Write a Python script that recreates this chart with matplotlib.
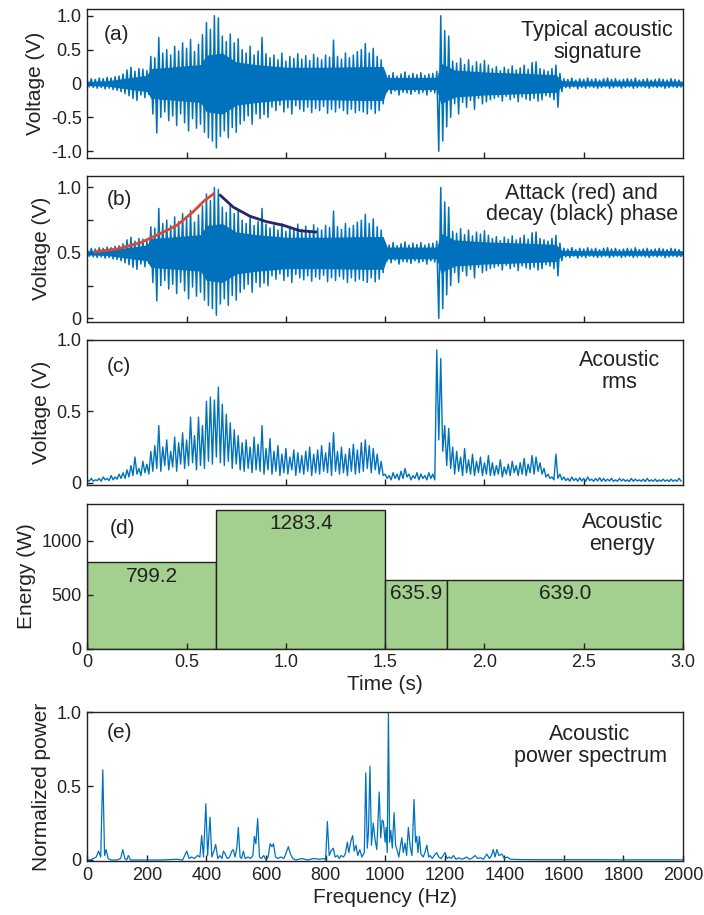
import numpy as np
import matplotlib.pyplot as plt

plt.rcParams['font.family'] = ['Liberation Sans', 'DejaVu Sans']

# --- (a) acoustic signature: upper peaks (t = 0, 0.02, ...) and lower peaks (t = 0.01, 0.03, ...) ---
sig_upper = [
    0.05, 0.07, 0.06, 0.08, 0.07, 0.09, 0.08, 0.10, 0.11, 0.14,
    0.20, 0.24, 0.18, 0.22, 0.21, 0.19,
    0.40, 0.38, 0.68, 0.45, 0.50, 0.42, 0.55, 0.48, 0.60, 0.52, 0.65, 0.47, 0.58,
    0.72, 0.90, 0.80, 1.00, 0.97,
    0.70, 0.62, 0.73, 0.60, 0.66,
    0.50, 0.45, 0.55, 0.42, 0.48, 0.68, 0.44,
    0.38, 0.42, 0.35, 0.45, 0.33, 0.40, 0.37, 0.44, 0.36, 0.41, 0.34, 0.43,
    0.38, 0.35, 0.42, 0.39, 0.64, 0.40, 0.36, 0.45, 0.38, 0.42, 0.47,
    0.50, 0.59, 0.45, 0.52, 0.40, 0.35,
    0.15, 0.12, 0.16, 0.11, 0.14, 0.17, 0.12, 0.15, 0.13, 0.16, 0.12, 0.14, 0.15, 0.18,
    1.00, 0.78, 0.70,
    0.33, 0.30, 0.37, 0.28, 0.35, 0.26, 0.32, 0.29, 0.34, 0.27,
    0.22, 0.25, 0.19, 0.24, 0.21, 0.26, 0.20, 0.23, 0.27, 0.21, 0.31, 0.32, 0.22,
    0.20, 0.18, 0.22, 0.27, 0.15,
    0.07, 0.06, 0.08, 0.05, 0.07, 0.06, 0.08, 0.06, 0.07, 0.05, 0.07, 0.08, 0.06, 0.07, 0.05,
    0.06, 0.07, 0.06, 0.08, 0.05, 0.06, 0.07, 0.05, 0.06, 0.07, 0.06, 0.05, 0.07, 0.06, 0.05,
]
sig_lower = [
    -0.05, -0.06, -0.07, -0.06, -0.08, -0.07, -0.09, -0.10, -0.12, -0.15,
    -0.18, -0.22, -0.25, -0.17, -0.21, -0.16,
    -0.45, -0.73, -0.50, -0.42, -0.55, -0.48, -0.62, -0.45, -0.58, -0.70, -0.52, -0.66, -0.60,
    -0.72, -0.80, -0.85, -0.95, -0.78,
    -0.70, -0.80, -0.65, -0.72, -0.60,
    -0.55, -0.48, -0.60, -0.45, -0.52, -0.46, -0.50,
    -0.35, -0.40, -0.32, -0.42, -0.36, -0.45, -0.33, -0.38, -0.41, -0.35, -0.43, -0.37,
    -0.40, -0.34, -0.44, -0.38, -0.42, -0.36, -0.40, -0.45, -0.38, -0.43, -0.40,
    -0.42, -0.45, -0.38, -0.44, -0.40, -0.30,
    -0.12, -0.15, -0.11, -0.17, -0.13, -0.14, -0.16, -0.12, -0.15, -0.13, -0.17, -0.12, -0.14, -1.00,
    -0.85, -0.64, -0.50,
    -0.30, -0.45, -0.28, -0.35, -0.25, -0.38, -0.22, -0.30, -0.27, -0.24,
    -0.22, -0.20, -0.26, -0.19, -0.24, -0.21, -0.27, -0.20, -0.23, -0.25, -0.22, -0.26, -0.24,
    -0.18, -0.20, -0.24, -0.35, -0.12,
    -0.06, -0.07, -0.05, -0.08, -0.06, -0.07, -0.05, -0.06, -0.07, -0.06, -0.05, -0.07, -0.06, -0.05, -0.07,
    -0.06, -0.05, -0.07, -0.06, -0.05, -0.06, -0.07, -0.05, -0.06, -0.05, -0.07, -0.06, -0.05, -0.06, -0.05,
]
# dense (solid) band of the signature, +/- amplitude
core_t = [0.0, 0.1, 0.2, 0.3, 0.32, 0.45, 0.57, 0.6, 0.68, 0.75, 0.85, 1.0, 1.2, 1.4, 1.49,
          1.51, 1.76, 1.78, 1.85, 2.0, 2.2, 2.36, 2.39, 2.5, 3.0]
core_amp = [0.03, 0.04, 0.08, 0.12, 0.22, 0.25, 0.28, 0.42, 0.45, 0.32, 0.28, 0.24, 0.24, 0.25, 0.25,
            0.09, 0.09, 0.30, 0.20, 0.17, 0.15, 0.13, 0.04, 0.035, 0.035]

# --- (b) attack / decay envelope ---
attack_t = [0.04, 0.15, 0.27, 0.37, 0.45, 0.53, 0.59, 0.635]
attack_v = [0.51, 0.53, 0.58, 0.65, 0.71, 0.81, 0.90, 0.95]
decay_t = [0.67, 0.735, 0.82, 0.90, 0.99, 1.07, 1.15]
decay_v = [0.94, 0.85, 0.78, 0.74, 0.71, 0.67, 0.66]

# --- (c) acoustic rms: peaks and troughs ---
rms_hi = [
    0.02, 0.03, 0.02, 0.03, 0.04, 0.03, 0.05, 0.04, 0.06, 0.07,
    0.09, 0.12, 0.18, 0.10, 0.15, 0.13,
    0.22, 0.26, 0.40, 0.25, 0.30, 0.22, 0.32, 0.28, 0.35, 0.30, 0.46, 0.33, 0.46,
    0.40, 0.57, 0.60, 0.58, 0.67,
    0.55, 0.48, 0.42, 0.37, 0.33,
    0.28, 0.30, 0.25, 0.32, 0.27, 0.40, 0.24,
    0.31, 0.22, 0.26, 0.20, 0.24, 0.18, 0.23, 0.21, 0.19, 0.22, 0.25, 0.20,
    0.23, 0.26, 0.21, 0.28, 0.35, 0.22, 0.25, 0.20, 0.24, 0.27, 0.23,
    0.28, 0.30, 0.26, 0.24, 0.20, 0.15,
    0.06, 0.05, 0.07, 0.06, 0.08, 0.10, 0.06, 0.05, 0.07, 0.06, 0.05, 0.07, 0.06,
    0.93, 0.87, 0.40, 0.38,
    0.25, 0.22, 0.18, 0.24, 0.16, 0.20, 0.15, 0.18, 0.14, 0.19,
    0.14, 0.12, 0.16, 0.11, 0.13, 0.15, 0.12, 0.14, 0.17, 0.13, 0.19, 0.18, 0.14,
    0.10, 0.06, 0.04, 0.20, 0.06,
    0.04, 0.03, 0.04, 0.03, 0.035, 0.03, 0.04, 0.025, 0.03, 0.035, 0.03, 0.025, 0.03, 0.02, 0.03,
    0.025, 0.02, 0.03, 0.025, 0.02, 0.025, 0.03, 0.02, 0.025, 0.02, 0.025, 0.02, 0.025, 0.02, 0.03,
]
rms_lo = [
    0.01, 0.01, 0.015, 0.01, 0.02, 0.015, 0.02, 0.025, 0.03, 0.03,
    0.04, 0.05, 0.06, 0.05, 0.07, 0.06,
    0.08, 0.10, 0.08, 0.12, 0.09, 0.11, 0.08, 0.13, 0.10, 0.12, 0.14, 0.09, 0.12,
    0.10, 0.15, 0.13, 0.18, 0.14,
    0.12, 0.15, 0.10, 0.13, 0.09,
    0.08, 0.10, 0.07, 0.09, 0.08, 0.06, 0.09,
    0.06, 0.08, 0.05, 0.07, 0.06, 0.09, 0.05, 0.07, 0.06, 0.08, 0.05, 0.07,
    0.06, 0.08, 0.07, 0.05, 0.08, 0.06, 0.07, 0.05, 0.08, 0.06, 0.07,
    0.08, 0.10, 0.07, 0.09, 0.06, 0.05,
    0.03, 0.02, 0.03, 0.02, 0.03, 0.04, 0.02, 0.03, 0.02, 0.03, 0.02, 0.03, 0.02,
    0.30, 0.22, 0.12, 0.10,
    0.06, 0.08, 0.05, 0.07, 0.06, 0.05, 0.07, 0.05, 0.06, 0.05,
    0.05, 0.06, 0.04, 0.06, 0.05, 0.07, 0.05, 0.06, 0.05, 0.07, 0.06, 0.08, 0.06,
    0.04, 0.03, 0.02, 0.03, 0.02,
    0.015, 0.01, 0.015, 0.01, 0.012, 0.01, 0.015, 0.01, 0.012, 0.01, 0.01, 0.012, 0.01, 0.01, 0.012,
    0.01, 0.008, 0.01, 0.012, 0.01, 0.008, 0.01, 0.01, 0.008, 0.01, 0.01, 0.008, 0.01, 0.01, 0.012,
]

# --- (d) acoustic energy per phase ---
phase_start = [0.0, 0.65, 1.5, 1.81]
phase_end = [0.65, 1.5, 1.81, 3.0]
energy = [799.2, 1283.4, 635.9, 639.0]

# --- (e) power spectrum ---
freq = [0, 10, 20, 30, 38, 45, 52, 58, 63, 70, 80, 100, 112, 119, 126, 132, 138, 145, 160, 200,
        250, 300, 320, 334, 342, 350, 360, 370, 378, 384, 390, 398, 404, 412, 418, 425, 431, 438, 445, 452,
        457, 463, 470, 478, 485, 490, 496, 502, 507, 513, 518, 524, 530, 540, 548, 556, 561, 566, 572, 578,
        585, 592, 600, 607, 614, 620, 625, 632, 640, 650, 660, 668, 675, 682, 690, 700, 720, 740, 760, 780,
        795, 800, 806, 812, 818, 826, 832, 840, 846, 852, 860, 866, 873, 878, 884, 891, 896, 902, 908, 915,
        922, 930, 935, 940, 944, 949, 954, 960, 966, 972, 980, 985, 990, 994, 1000, 1003, 1007, 1011, 1015, 1019,
        1024, 1030, 1035, 1041, 1046, 1051, 1056, 1061, 1067, 1072, 1078, 1084, 1090, 1097, 1102, 1106, 1110, 1115, 1120, 1128,
        1135, 1140, 1146, 1151, 1158, 1165, 1173, 1180, 1188, 1195, 1201, 1208, 1215, 1222, 1229, 1238, 1248, 1256, 1265, 1274,
        1282, 1290, 1302, 1310, 1320, 1330, 1341, 1350, 1357, 1363, 1369, 1375, 1382, 1392, 1400, 1410, 1420, 1450, 1500, 1600,
        1700, 1800, 1900, 2000]
power = [0.0, 0.0, 0.01, 0.02, 0.06, 0.02, 0.61, 0.03, 0.07, 0.01, 0.0, 0.0, 0.01, 0.07, 0.01, 0.0, 0.03, 0.0, 0.0, 0.0,
         0.0, 0.005, 0.0, 0.06, 0.01, 0.02, 0.01, 0.03, 0.02, 0.165, 0.02, 0.38, 0.03, 0.29, 0.02, 0.06, 0.105, 0.01, 0.03, 0.01,
         0.06, 0.04, 0.01, 0.02, 0.06, 0.07, 0.02, 0.08, 0.22, 0.02, 0.01, 0.06, 0.01, 0.02, 0.01, 0.03, 0.16, 0.11, 0.28, 0.02,
         0.01, 0.03, 0.0, 0.02, 0.11, 0.09, 0.11, 0.02, 0.01, 0.02, 0.01, 0.05, 0.09, 0.04, 0.01, 0.0, 0.01, 0.0, 0.01, 0.005,
         0.01, 0.0, 0.26, 0.03, 0.06, 0.08, 0.02, 0.03, 0.01, 0.03, 0.02, 0.04, 0.12, 0.05, 0.12, 0.165, 0.06, 0.10, 0.03, 0.07,
         0.02, 0.05, 0.59, 0.08, 0.19, 0.635, 0.10, 0.25, 0.14, 0.07, 0.46, 0.15, 0.27, 0.26, 0.12, 0.22, 0.05, 1.0, 0.12, 0.20,
         0.08, 0.32, 0.10, 0.06, 0.02, 0.09, 0.15, 0.05, 0.115, 0.03, 0.22, 0.09, 0.03, 0.41, 0.12, 0.16, 0.05, 0.16, 0.04, 0.02,
         0.06, 0.10, 0.02, 0.03, 0.01, 0.03, 0.05, 0.02, 0.01, 0.03, 0.05, 0.01, 0.02, 0.01, 0.03, 0.005, 0.015, 0.005, 0.01, 0.02,
         0.005, 0.01, 0.03, 0.01, 0.015, 0.005, 0.04, 0.01, 0.03, 0.07, 0.02, 0.07, 0.03, 0.04, 0.01, 0.02, 0.005, 0.003, 0.002, 0.002,
         0.002, 0.001, 0.001, 0.001]

blue = '#0072BD'
ink = '#222222'
fig = plt.figure(figsize=(7.04, 9.15), dpi=100)

def axes_px(top, bottom, left=87.3, right=683.0):
    return fig.add_axes([left / 704, 1 - bottom / 915, (right - left) / 704, (bottom - top) / 915])

def style(ax):
    for s in ax.spines.values():
        s.set_linewidth(1.0)
        s.set_color(ink)
    ax.tick_params(direction='in', length=4.5, width=1, labelsize=13, colors=ink, pad=4)

def note(ax, x, y, label, text):
    ax.text(x, y, label, transform=ax.transAxes, fontsize=15, color=ink, va='center')
    ax.text(*text[0], text[1], transform=ax.transAxes, fontsize=15.5, color=ink,
            ha='center', va='center', linespacing=1.05)

def fmt(v):
    return '0' if v == 0 else f'{v:.1f}'

# sample grid for the waveform peaks
t_hi = np.arange(len(sig_upper)) * 0.02
t_lo = t_hi + 0.01
t_all = np.empty(2 * len(t_hi))
t_all[0::2] = t_hi
t_all[1::2] = t_lo
sig = np.empty(2 * len(sig_upper))
sig[0::2] = sig_upper
sig[1::2] = sig_lower
rms = np.empty(2 * len(rms_hi))
rms[0::2] = rms_hi
rms[1::2] = rms_lo
core_amp = np.array(core_amp)

# panel (b) is the same signature scaled to 0..1
lo, hi = sig.min(), sig.max()
sig_norm = (sig - lo) / (hi - lo)
core_lo_n = (-core_amp - lo) / (hi - lo)
core_hi_n = (core_amp - lo) / (hi - lo)

time_ticks = [0.5, 1.0, 1.5, 2.0, 2.5]

# (a)
ax = axes_px(9, 158)
ax.fill_between(core_t, -core_amp, core_amp, color=blue, lw=0)
ax.plot(t_all, sig, color=blue, lw=1.1)
ax.set_xlim(0, 3)
ax.set_ylim(-1.1, 1.1)
ax.set_xticks(time_ticks)
ax.set_xticklabels([])
ax.set_yticks([-1, -0.5, 0, 0.5, 1])
ax.set_yticklabels([fmt(v) for v in [-1, -0.5, 0, 0.5, 1]])
ax.set_ylabel('Voltage (V)', fontsize=15, color=ink)
note(ax, 0.027, 0.83, '(a)', ((0.856, 0.78), 'Typical acoustic\nsignature'))
style(ax)

# (b)
ax = axes_px(175.7, 321.7)
ax.fill_between(core_t, core_lo_n, core_hi_n, color=blue, lw=0)
ax.plot(t_all, sig_norm, color=blue, lw=1.1)
ax.plot(attack_t, attack_v, color='#E0482D', lw=2)
ax.plot(decay_t, decay_v, color='#2B2563', lw=2)
ax.set_xlim(0, 3)
ax.set_ylim(-0.025, 1.09)
ax.set_xticks(time_ticks)
ax.set_xticklabels([])
ax.set_yticks([0, 0.25, 0.5, 0.75, 1.0])
ax.set_yticklabels(['0', '', '0.5', '', '1.0'])
ax.set_ylabel('Voltage (V)', fontsize=15, color=ink)
note(ax, 0.033, 0.834, '(b)', ((0.83, 0.806), 'Attack (red) and\ndecay (black) phase'))
style(ax)

# (c)
ax = axes_px(340, 484.7)
ax.plot(t_all, rms, color=blue, lw=1.0)
ax.set_xlim(0, 3)
ax.set_ylim(-0.014, 1.0)
ax.set_xticks(time_ticks)
ax.set_xticklabels([])
ax.set_yticks([0, 0.5, 1.0])
ax.set_yticklabels(['0', '0.5', '1.0'])
ax.set_ylabel('Voltage (V)', fontsize=15, color=ink)
note(ax, 0.033, 0.815, '(c)', ((0.894, 0.78), 'Acoustic\nrms'))
style(ax)

# (d)
ax = axes_px(504, 648.7)
widths = [e - s for s, e in zip(phase_start, phase_end)]
ax.bar(phase_start, energy, width=widths, align='edge', color='#A3D08E', edgecolor=ink, lw=1)
for s, w, e in zip(phase_start, widths, energy):
    ax.text(s + w / 2, e - 40, f'{e:.1f}', ha='center', va='top', fontsize=15, color=ink)
ax.set_xlim(0, 3)
ax.set_ylim(0, 1340)
ax.set_xticks([0, 0.5, 1.0, 1.5, 2.0, 2.5, 3.0])
ax.set_xticklabels(['0', '0.5', '1.0', '1.5', '2.0', '2.5', '3.0'])
ax.set_yticks([0, 500, 1000])
ax.set_ylabel('Energy (W)', fontsize=15, color=ink)
ax.set_xlabel('Time (s)', fontsize=15, labelpad=3, color=ink)
note(ax, 0.038, 0.834, '(d)', ((0.898, 0.795), 'Acoustic\nenergy'))
style(ax)

# (e)
ax = axes_px(712.3, 861)
ax.plot(freq, power, color=blue, lw=0.9)
ax.set_xlim(0, 2000)
ax.set_ylim(-0.007, 1.0)
ax.set_xticks(np.arange(0, 2001, 200))
ax.set_yticks([0, 0.5, 1.0])
ax.set_yticklabels(['0', '0.5', '1.0'])
ax.set_ylabel('Normalized power', fontsize=15, color=ink)
ax.set_xlabel('Frequency (Hz)', fontsize=15, labelpad=3, color=ink)
note(ax, 0.033, 0.861, '(e)', ((0.844, 0.775), 'Acoustic\npower spectrum'))
style(ax)

fig.savefig('out.png', dpi=100)
